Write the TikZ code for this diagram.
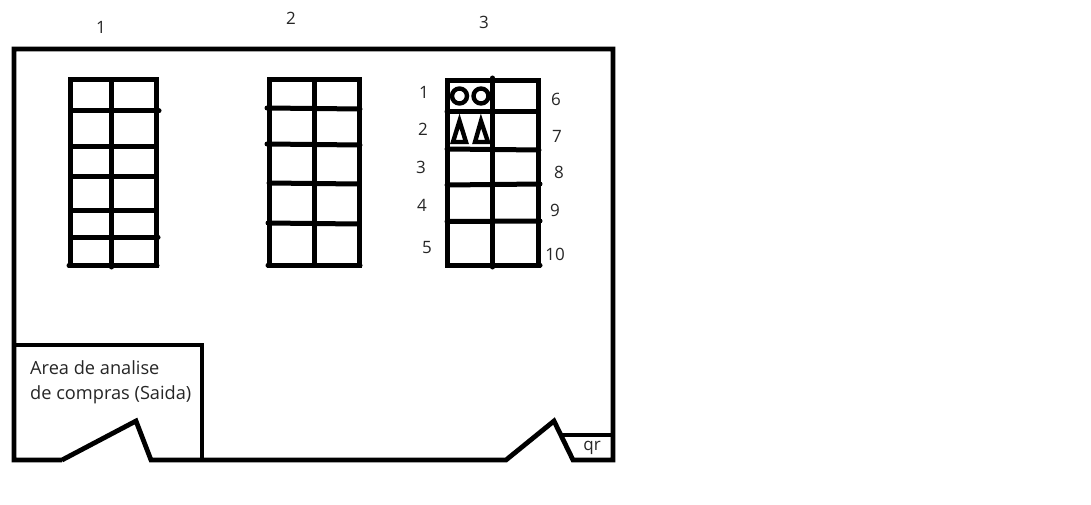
\documentclass[tikz,border=0pt]{standalone}
\usepackage{fontspec}
\setmainfont{Open Sans}
\tikzset{
  x=1pt,y=-1pt,
  wall/.style={line width=4.8pt,line join=miter,line cap=butt,black},
  shelf/.style={line width=5pt,line cap=round,black},
  item/.style={line width=4.4pt,black},
  lbl/.style={inner sep=0pt,font=\fontsize{17}{20}\selectfont,text=black!85},
  roomlbl/.style={inner sep=0pt,anchor=west,font=\fontsize{18.2}{21}\selectfont,text=black!85}
}
\begin{document}
\begin{tikzpicture}
\useasboundingbox (0,0) rectangle (1091,505);
\fill[white] (0,0) rectangle (1091,505);
% outer walls
\draw[wall] (62,460) -- (14,460) -- (14,49) -- (613,49) -- (613,460) -- (573,460) -- (554,421) -- (506,460) -- (151,460) -- (136,421) -- (62,460);
\draw[wall] (14,345) -- (202,345) -- (202,460);
\draw[wall] (560,435) -- (615,435);
% shelf 1
\draw[shelf] (70.5,80) rectangle (156,265);
\draw[shelf] (69,265.5) -- (157,265.5);
\draw[shelf] (111.5,80) -- (111.5,267);
\foreach \y/\xe in {111/159,147/155,177/155,210/155,237/158} \draw[shelf] (71,\y) -- (\xe,\y);
% shelf 2
\draw[shelf] (269,80) rectangle (359,265);
\draw[shelf] (268,265) -- (360,265);
\draw[shelf] (314.5,80) -- (314.5,265);
\draw[shelf] (267,108) -- (360,109);
\draw[shelf] (267,144) -- (360,145);
\draw[shelf] (269,183) -- (358,184);
\draw[shelf] (268,223) -- (358,224);
% shelf 3
\draw[shelf] (447.5,81) rectangle (538,265);
\draw[shelf] (492.5,78) -- (492.5,267);
\draw[shelf] (447,112) -- (538,112);
\draw[shelf] (447,149) -- (539,150);
\draw[shelf] (447,185) -- (540,184);
\draw[shelf] (447,221.5) -- (540,221);
\draw[shelf] (538,265) -- (540,265);
% items
\draw[item] (459.5,96) circle (7.5);
\draw[item] (481,96) circle (7.5);
\draw[item,line join=miter] (459.5,121) -- (466,142) -- (453,142) -- cycle;
\draw[item,line join=miter] (481,121) -- (488,142) -- (475,142) -- cycle;
% labels
\node[lbl] (t1) at (101,27) {1};
\node[lbl] (t2) at (291,18) {2};
\node[lbl] (t3) at (484,22) {3};
\node[lbl] (l1) at (424,92) {1};
\node[lbl] (l2) at (423,129) {2};
\node[lbl] (l3) at (421,167) {3};
\node[lbl] (l4) at (422,205) {4};
\node[lbl] (l5) at (427,248) {5};
\node[lbl] (r6) at (556,99) {6};
\node[lbl] (r7) at (557,136) {7};
\node[lbl] (r8) at (559,172) {8};
\node[lbl] (r9) at (555,210) {9};
\node[lbl] (r10) at (555,254) {10};
\node[lbl] (qr) at (592,448) {qr};
\node[roomlbl] (a1) at (30,368) {Area de analise};
\node[roomlbl] (a2) at (30,395) {de compras (Saida)};
\end{tikzpicture}
\end{document}
